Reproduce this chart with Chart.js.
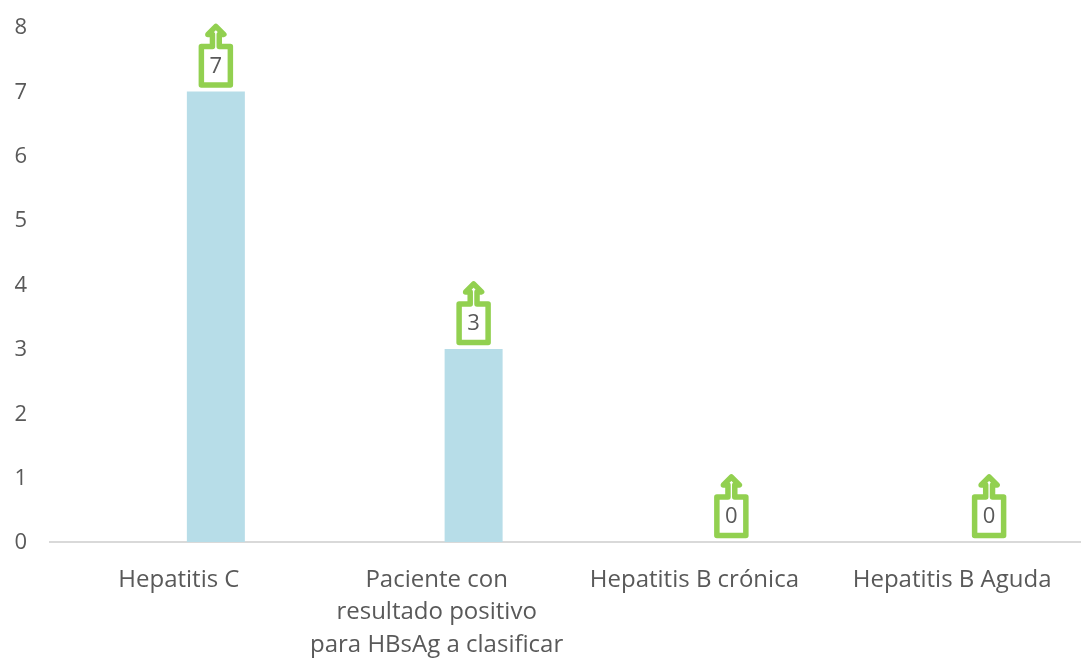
<!DOCTYPE html>
<html>
<head>
<meta charset="utf-8">
<script src="https://cdn.jsdelivr.net/npm/chart.js@4"></script>
<style>
html, body { margin: 0; padding: 0; background: #fff; }
#wrap { width: 1081px; height: 658px; }
</style>
</head>
<body>
<div id="wrap"><canvas id="chart" width="1081" height="658"></canvas></div>
<script>
const categories = [
    "Hepatitis C",
    ["Paciente con", "resultado positivo", "para HBsAg a clasificar"],
    "Hepatitis B crónica",
    "Hepatitis B Aguda"
];
const spacerValues = [null, null, null, null];
const casos = [7, 3, 0, 0];
const yMax = 8;

const textColor = '#595959';
const fontName = '"Open Sans", sans-serif';

// green arrow box around each value, as in the original spreadsheet chart
const arrowLabels = {
    id: 'arrowLabels',
    afterDatasetsDraw(chart) {
        const ctx = chart.ctx;
        const meta = chart.getDatasetMeta(1);
        meta.data.forEach(function(bar, i) {
            const x = bar.x;
            const y = bar.y;
            ctx.save();
            ctx.strokeStyle = '#92d050';
            ctx.fillStyle = '#fff';
            ctx.lineWidth = 5.5;
            ctx.lineJoin = 'round';
            ctx.beginPath();
            ctx.moveTo(x - 14.5, y - 45);
            ctx.lineTo(x - 3.4, y - 45);
            ctx.lineTo(x - 3.4, y - 57);
            ctx.lineTo(x - 8, y - 57);
            ctx.lineTo(x, y - 65);
            ctx.lineTo(x + 8, y - 57);
            ctx.lineTo(x + 3.4, y - 57);
            ctx.lineTo(x + 3.4, y - 45);
            ctx.lineTo(x + 14.5, y - 45);
            ctx.lineTo(x + 14.5, y - 6.5);
            ctx.lineTo(x - 14.5, y - 6.5);
            ctx.closePath();
            ctx.fill();
            ctx.stroke();
            ctx.fillStyle = textColor;
            ctx.font = '22px ' + fontName;
            ctx.textAlign = 'center';
            ctx.textBaseline = 'middle';
            ctx.fillText(String(casos[i]), x, y - 25);
            ctx.restore();
        });
    }
};

new Chart(document.getElementById('chart').getContext('2d'), {
    type: 'bar',
    data: {
        labels: categories,
        datasets: [{
            label: 'spacer',
            data: spacerValues,
            backgroundColor: 'rgba(0,0,0,0)'
        }, {
            label: 'Casos',
            data: casos,
            backgroundColor: '#b7dde8'
        }]
    },
    options: {
        responsive: false,
        animation: false,
        categoryPercentage: 0.574,
        barPercentage: 0.784,
        layout: { padding: { top: 27, left: 0, right: 0, bottom: 0 } },
        plugins: {
            legend: { display: false },
            tooltip: { enabled: false }
        },
        scales: {
            x: {
                grid: { display: false, tickLength: 0 },
                border: { color: '#d9d9d9', width: 2 },
                ticks: {
                    color: textColor,
                    font: { family: fontName, size: 24, lineHeight: 1.35 },
                    maxRotation: 0,
                    minRotation: 0,
                    autoSkip: false,
                    padding: 22
                },
                afterFit(scale) {
                    scale.height = 116;
                    scale.paddingLeft = 0;
                    scale.paddingRight = 0;
                }
            },
            y: {
                min: 0,
                max: yMax,
                grid: { display: false, tickLength: 0 },
                border: { display: false },
                ticks: {
                    color: textColor,
                    font: { family: fontName, size: 22 },
                    stepSize: 1,
                    padding: 23,
                    labelOffset: 1
                },
                afterFit(scale) {
                    scale.width = 50;
                    scale.paddingTop = 0;
                    scale.paddingBottom = 0;
                }
            }
        }
    },
    plugins: [arrowLabels]
});
</script>
</body>
</html>
